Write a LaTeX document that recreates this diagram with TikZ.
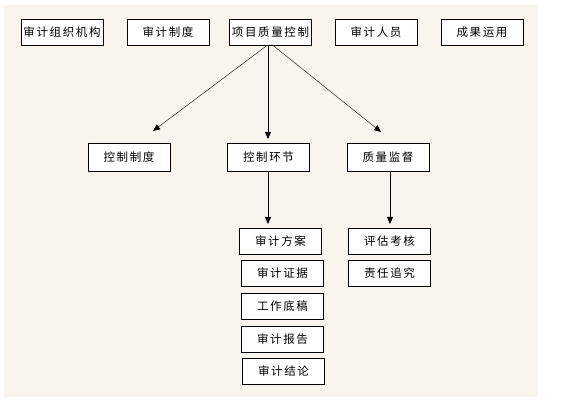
\documentclass[tikz,border=0pt]{standalone}
\usepackage{fontspec}
\newfontfamily\cjk{Noto Sans CJK SC}[LetterSpace=14]
\usetikzlibrary{arrows.meta}
\definecolor{bgbeige}{HTML}{F8F5EF}
\begin{document}
\begin{tikzpicture}[x=1pt,y=-1pt,
  box/.style={draw=black,line width=0.9pt,fill=white,minimum width=82pt,minimum height=26pt,inner sep=0pt,font=\cjk\fontsize{11.5}{13}\selectfont},
  tallbox/.style={box,minimum height=28pt},
  conn/.style={line width=0.8pt,-{Triangle[length=7pt,width=6pt]}},
  diag/.style={line width=0.6pt,draw=black!75,-{Triangle[length=7pt,width=6pt,color=black]}}]
\useasboundingbox (0,0) rectangle (563,409);
\fill[bgbeige] (4,5) rectangle (538,397);
% top row
\node[box] (zz) at (62,32) {审计组织机构};
\node[box] (zd) at (168,32) {审计制度};
\node[box] (xm) at (270.5,32) {项目质量控制};
\node[box] (ry) at (376,32) {审计人员};
\node[box] (cg) at (482,32) {成果运用};
% second row
\node[tallbox] (kzzd) at (129,157) {控制制度};
\node[tallbox] (kzhj) at (268.5,157) {控制环节};
\node[tallbox] (zljd) at (388,157) {质量监督};
% columns
\node[box] (fa) at (280.5,241) {审计方案};
\node[box] (zj) at (282.5,273) {审计证据};
\node[box] (dg) at (282.5,306) {工作底稿};
\node[box] (bg) at (282.5,339) {审计报告};
\node[box] (jl) at (283.5,371) {审计结论};
\node[box] (pg) at (389.5,241) {评估考核};
\node[box] (zr) at (389.5,273) {责任追究};
% arrow tips
\coordinate (t1) at (153,131);
\coordinate (t2) at (268,139);
\coordinate (t3) at (381,132);
\coordinate (t4) at (268,224);
\coordinate (t5) at (390,224);
\draw[diag] ([xshift=-3.5pt]xm.south) -- (t1);
\draw[conn] ([xshift=-2.5pt]xm.south) -- (t2);
\draw[diag] ([xshift=2.5pt]xm.south) -- (t3);
\draw[conn] ([xshift=-0.5pt]kzhj.south) -- (t4);
\draw[conn] ([xshift=2pt]zljd.south) -- (t5);
\end{tikzpicture}
\end{document}
